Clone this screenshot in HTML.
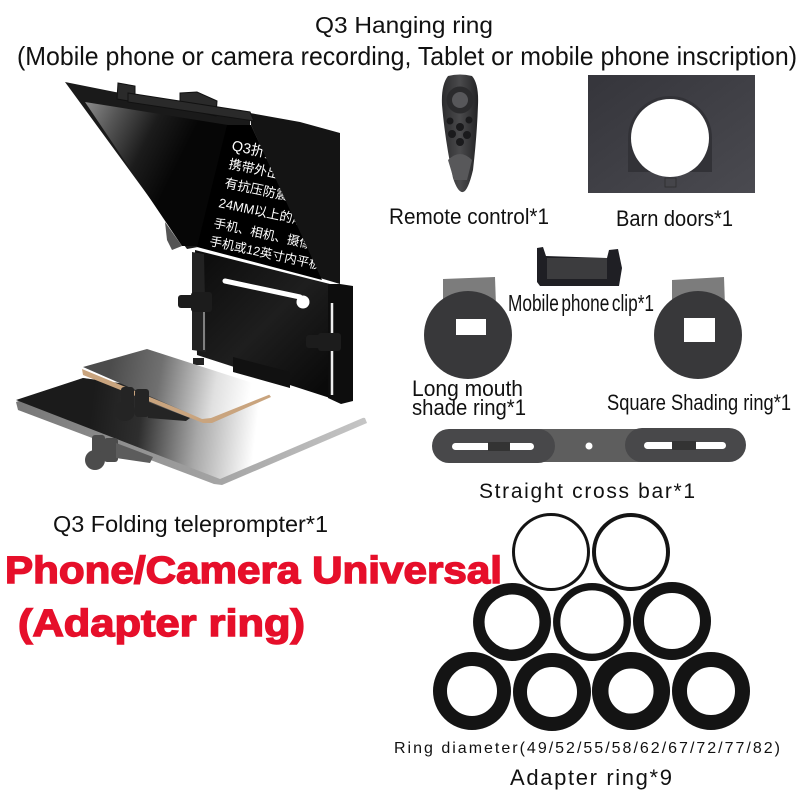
<!DOCTYPE html>
<html><head><meta charset="utf-8"><style>
html,body{margin:0;padding:0;background:#fff;width:800px;height:800px;overflow:hidden}
svg{display:block}
text{font-family:"Liberation Sans","Noto Sans CJK SC",sans-serif;fill:#111}
.l{font-size:22px}
.s{fill:#fff}
</style></head><body>
<svg width="800" height="800" viewBox="0 0 800 800" xmlns="http://www.w3.org/2000/svg">
<defs>
<linearGradient id="mir" gradientUnits="userSpaceOnUse" x1="85" y1="100" x2="185" y2="150"><stop offset="0" stop-color="#8e8e8e"/><stop offset=".3" stop-color="#555"/><stop offset=".65" stop-color="#1c1c1c"/><stop offset="1" stop-color="#060606"/></linearGradient>
<linearGradient id="tab" gradientUnits="userSpaceOnUse" x1="90" y1="420" x2="255" y2="440"><stop offset="0" stop-color="#1b1b1b"/><stop offset=".3" stop-color="#2e2e2e"/><stop offset=".65" stop-color="#a8a8a8"/><stop offset="1" stop-color="#fff"/></linearGradient>
<linearGradient id="edge" gradientUnits="userSpaceOnUse" x1="16" y1="400" x2="365" y2="420"><stop offset="0" stop-color="#777"/><stop offset=".6" stop-color="#a5a5a5"/><stop offset="1" stop-color="#c5c5c5"/></linearGradient>
<linearGradient id="ph" gradientUnits="userSpaceOnUse" x1="110" y1="370" x2="250" y2="395"><stop offset="0" stop-color="#4c4c4c"/><stop offset=".35" stop-color="#707070"/><stop offset=".75" stop-color="#e0e0e0"/><stop offset="1" stop-color="#fff"/></linearGradient>
<linearGradient id="pan" gradientUnits="userSpaceOnUse" x1="200" y1="270" x2="320" y2="390"><stop offset="0" stop-color="#0e0e0e"/><stop offset=".5" stop-color="#1e1e1e"/><stop offset="1" stop-color="#0a0a0a"/></linearGradient>
<linearGradient id="rem" x1="0" x2="1"><stop offset="0" stop-color="#2c2c2e"/><stop offset=".5" stop-color="#4a4a4c"/><stop offset="1" stop-color="#232325"/></linearGradient>
<linearGradient id="barn" x1="0" y1="0" x2="1" y2="1"><stop offset="0" stop-color="#35353b"/><stop offset="1" stop-color="#4a4a50"/></linearGradient>
<clipPath id="scr"><polygon points="227,125 251,125 322,280 198,248"/></clipPath>
</defs>

<!-- Title -->
<text x="315" y="33" font-size="23" textLength="178" lengthAdjust="spacingAndGlyphs">Q3 Hanging ring</text>
<text x="17" y="65" font-size="26" textLength="780" lengthAdjust="spacingAndGlyphs">(Mobile phone or camera recording, Tablet or mobile phone inscription)</text>

<!-- Teleprompter: frame + mirror -->
<polygon points="65,82 115,92 250,113 250,128 198,247 187,249" fill="#1a1a1a"/>
<polygon points="85,102 228,125 198,246 182,246" fill="url(#mir)"/>
<polygon points="165,222 182,246 172,250 167,240" fill="#555"/>
<!-- hood -->
<polygon points="250,113 300,122 340,133 340,284 320,278 251,125" fill="#141414"/>
<polygon points="197,247 227,125 251,125 322,280" fill="#000"/>
<g clip-path="url(#scr)">
<text class="s" transform="translate(231,150) rotate(12)" font-size="14.5">Q3折叠提词器</text>
<text class="s" transform="translate(228,168) rotate(12)" font-size="13">携带外出时</text>
<text class="s" transform="translate(224,187) rotate(12)" font-size="13">有抗压防震</text>
<text class="s" transform="translate(218,207) rotate(12)" font-size="13">24MM以上的厚度</text>
<text class="s" transform="translate(213,227) rotate(12.5)" font-size="12.5">手机、相机、摄像机</text>
<text class="s" transform="translate(209,245) rotate(12.5)" font-size="12.5">手机或12英寸内平板</text>
</g>
<!-- top clips -->
<g fill="#2a2a2a" stroke="#111" stroke-width="1">
<polygon points="118,83 135,86 135,102 117,99"/>
<polygon points="180,93 197,92 217,101 216,116 180,108"/>
<polygon points="128,93 250,112 254,121 128,102"/>
</g>
<!-- lower panel -->
<polygon points="195,250 330,284 330,398 197,355" fill="url(#pan)"/>
<polygon points="192,252 204,254 206,352 192,350" fill="#222"/>
<line x1="204" y1="312" x2="204" y2="350" stroke="#ddd" stroke-width="1"/>
<polygon points="328,284 340,284 353,286 353,401 341,404 328,398" fill="#0d0d0d"/>
<line x1="332" y1="303" x2="332" y2="395" stroke="#eee" stroke-width="2.5"/>
<path d="M225,281 L300,297" stroke="#fff" stroke-width="5" stroke-linecap="round"/>
<circle cx="303" cy="302" r="6.5" fill="#fff"/>
<!-- knobs -->
<g fill="#1c1c1c">
<rect x="178" y="295" width="20" height="13" rx="3"/><rect x="191" y="292" width="21" height="20" rx="3"/>
<rect x="306" y="335" width="20" height="13" rx="3"/><rect x="318" y="333" width="23" height="18" rx="3"/>
</g>
<polygon points="233,357 290,372 290,388 233,372" fill="#111"/>
<rect x="193" y="358" width="11" height="7" fill="#222"/>

<!-- tablet -->
<polygon points="16,402 83,378 365,418 367,423 222,485 214,484 18,410" fill="url(#edge)"/>
<polygon points="16,400 83,378 365,417 220,479" fill="url(#tab)"/>
<!-- phone -->
<polygon points="82,369 83,375 203,423 212,423 271,397 268,393 203,419" fill="#c9a47e"/>
<polygon points="83,367 147,349 262,386 271,394 211,418 202,419" fill="url(#ph)"/>
<!-- clamps -->
<g fill="#242424">
<rect x="121" y="387" width="13" height="24" rx="3"/>
<rect x="135" y="389" width="14" height="28" rx="3"/>
<circle cx="125" cy="411" r="10"/><polygon points="148,402 190,418 186,421 148,418"/>
</g>
<g fill="#4c4c4c">
<rect x="92" y="435" width="13" height="22" rx="3"/><rect x="104" y="438" width="14" height="24" rx="3"/>
<circle cx="95" cy="460" r="10"/><polygon points="116,443 153,457 150,463 116,458" fill="#5c5c5c"/>
</g>

<!-- Remote -->
<path d="M448,76 Q460,73 472,76 Q479,84 478,105 Q477,135 473,170 Q468,191 463,192 Q458,193 453,178 Q445,140 442,105 Q441,85 448,76Z" fill="url(#rem)"/>
<circle cx="460" cy="100" r="13.5" fill="#2b2b2d"/><circle cx="460" cy="100" r="8" fill="#57575a"/>
<g fill="#1a1a1c"><circle cx="450" cy="121" r="3.5"/><circle cx="469" cy="120" r="3.5"/><circle cx="460" cy="127" r="4"/><circle cx="452" cy="134" r="4"/><circle cx="467" cy="135" r="4"/><circle cx="460" cy="142" r="4"/></g>
<path d="M448,160 Q460,148 472,160 L467,180 L454,180Z" fill="#58585a"/>

<!-- Barn doors -->
<rect x="588" y="75" width="167" height="118" fill="url(#barn)"/>
<path d="M628,172 L628,138 A42,42 0 0 1 712,138 L712,172Z" fill="#323237"/>
<rect x="665" y="178" width="11" height="9" fill="#45454a" stroke="#2a2a2a" stroke-width=".7"/>
<circle cx="670" cy="138" r="39" fill="#fff"/>
<text class="l" x="389" y="224" textLength="160" lengthAdjust="spacingAndGlyphs">Remote control*1</text>
<text class="l" x="616" y="226" textLength="117" lengthAdjust="spacingAndGlyphs">Barn doors*1</text>

<!-- Phone clip -->
<path d="M537,248 L543,247 L546,256 L607,258 L609,250 L618,249 L622,268 L619,286 L540,286 L537,282Z" fill="#1f1f24"/>
<rect x="547" y="258" width="60" height="21" fill="#3c3c3e"/>
<text x="508" y="311" font-size="23" textLength="146" lengthAdjust="spacingAndGlyphs" style="word-spacing:-3px">Mobile phone clip*1</text>

<!-- Shade rings -->
<polygon points="443,279 495,277 496,306 443,303" fill="#7c7c7c"/>
<circle cx="468" cy="335" r="44" fill="#38383a"/>
<rect x="456" y="319" width="30" height="16" fill="#fff"/>
<polygon points="672,280 724,277 725,306 672,303" fill="#7c7c7c"/>
<circle cx="698" cy="335" r="44" fill="#38383a"/>
<rect x="684" y="318" width="31" height="24" fill="#fff"/>
<text class="l" x="412" y="396" textLength="111" lengthAdjust="spacingAndGlyphs">Long mouth</text>
<text class="l" x="412" y="415" textLength="114" lengthAdjust="spacingAndGlyphs">shade ring*1</text>
<text class="l" x="607" y="410" textLength="184" lengthAdjust="spacingAndGlyphs">Square Shading ring*1</text>

<!-- Cross bar -->
<rect x="500" y="429" width="190" height="33" fill="#5e5e5e"/>
<rect x="432" y="429" width="123" height="34" rx="17" fill="#48484a"/>
<rect x="625" y="428" width="121" height="34" rx="17" fill="#48484a"/>
<rect x="452" y="443" width="82" height="7" rx="3.5" fill="#fff"/>
<rect x="644" y="442" width="82" height="7" rx="3.5" fill="#fff"/>
<rect x="488" y="442" width="22" height="9" fill="#333"/><rect x="672" y="441" width="24" height="9" fill="#333"/>
<circle cx="589" cy="446" r="3.5" fill="#fff"/>
<text x="479" y="498" font-size="21" textLength="216" lengthAdjust="spacing">Straight cross bar*1</text>

<!-- Left caption -->
<text x="53" y="532" font-size="23" textLength="275" lengthAdjust="spacingAndGlyphs">Q3 Folding teleprompter*1</text>

<!-- Adapter rings -->
<g fill="none" stroke="#141414">
<circle cx="551" cy="552" r="37.5" stroke-width="3"/>
<circle cx="631" cy="552" r="37" stroke-width="4"/>
<circle cx="512" cy="622" r="33.2" stroke-width="11.5"/>
<circle cx="592" cy="622" r="35.3" stroke-width="7.3"/>
<circle cx="672" cy="621" r="33.5" stroke-width="11"/>
<circle cx="472" cy="691" r="32" stroke-width="14"/>
<circle cx="552" cy="692" r="32" stroke-width="14"/>
<circle cx="631" cy="691" r="30.8" stroke-width="16.5"/>
<circle cx="711" cy="691" r="31.5" stroke-width="15"/>
</g>
<text x="5" y="583" font-size="38" font-weight="bold" textLength="497" lengthAdjust="spacingAndGlyphs" style="fill:#e60f2a;stroke:#e60f2a;stroke-width:1.4">Phone/Camera Universal</text>
<text x="18" y="636" font-size="38" font-weight="bold" textLength="287" lengthAdjust="spacingAndGlyphs" style="fill:#e60f2a;stroke:#e60f2a;stroke-width:1.4">(Adapter ring)</text>
<text x="394" y="753" font-size="16" textLength="386" lengthAdjust="spacing">Ring diameter(49/52/55/58/62/67/72/77/82)</text>
<text x="510" y="785" font-size="22" textLength="162" lengthAdjust="spacing">Adapter ring*9</text>
</svg>
</body></html>
